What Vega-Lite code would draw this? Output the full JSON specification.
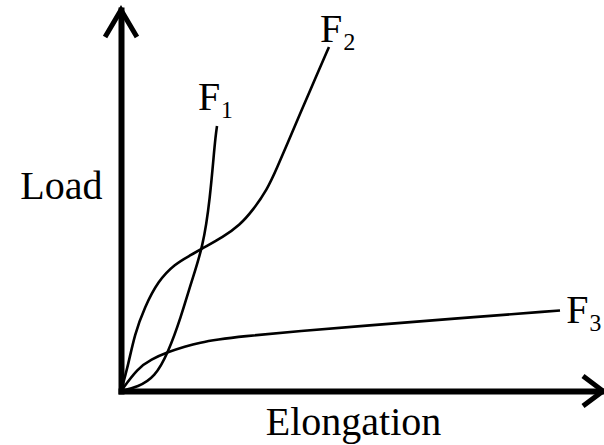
{
  "$schema": "https://vega.github.io/schema/vega-lite/v6.json",
  "width": 482,
  "height": 381,
  "autosize": {"type": "none"},
  "padding": {"left": 121, "top": 10, "right": 1, "bottom": 54},
  "background": "white",
  "config": {
    "view": {"stroke": null},
    "font": "Liberation Serif",
    "axis": {
      "domain": true,
      "domainColor": "black",
      "domainWidth": 6,
      "domainCap": "square",
      "ticks": false,
      "labels": false,
      "grid": false,
      "titleFont": "Liberation Serif",
      "titleFontSize": 40,
      "titleFontWeight": "normal",
      "titleColor": "black"
    }
  },
  "datasets": {
    "curves": [
      {"series": "F1", "elongation": 0, "load": 0},
      {"series": "F1", "elongation": 3.53, "load": 1.05},
      {"series": "F1", "elongation": 7.05, "load": 3.67},
      {"series": "F1", "elongation": 9.75, "load": 9.97},
      {"series": "F1", "elongation": 12.45, "load": 19.42},
      {"series": "F1", "elongation": 14.52, "load": 28.35},
      {"series": "F1", "elongation": 17.01, "load": 37.8},
      {"series": "F1", "elongation": 18.46, "load": 50.13},
      {"series": "F1", "elongation": 19.5, "load": 65.88},
      {"series": "F1", "elongation": 19.92, "load": 69.55},
      {"series": "F2", "elongation": 0, "load": 0},
      {"series": "F2", "elongation": 1.45, "load": 6.56},
      {"series": "F2", "elongation": 2.84, "load": 14.96},
      {"series": "F2", "elongation": 4.92, "load": 22.05},
      {"series": "F2", "elongation": 7.68, "load": 28.87},
      {"series": "F2", "elongation": 11.14, "load": 33.33},
      {"series": "F2", "elongation": 14.32, "load": 35.56},
      {"series": "F2", "elongation": 17.01, "load": 37.53},
      {"series": "F2", "elongation": 21.16, "load": 40.42},
      {"series": "F2", "elongation": 24.69, "load": 43.57},
      {"series": "F2", "elongation": 27.39, "load": 47.51},
      {"series": "F2", "elongation": 30.29, "load": 52.76},
      {"series": "F2", "elongation": 32.37, "load": 58.53},
      {"series": "F2", "elongation": 34.65, "load": 65.35},
      {"series": "F2", "elongation": 37.14, "load": 72.7},
      {"series": "F2", "elongation": 40.25, "load": 81.89},
      {"series": "F2", "elongation": 43.15, "load": 90.29},
      {"series": "F3", "elongation": 0, "load": 0},
      {"series": "F3", "elongation": 3.53, "load": 6.04},
      {"series": "F3", "elongation": 6.22, "load": 8.27},
      {"series": "F3", "elongation": 9.75, "load": 10.24},
      {"series": "F3", "elongation": 13.28, "load": 11.68},
      {"series": "F3", "elongation": 16.39, "load": 12.73},
      {"series": "F3", "elongation": 20.12, "load": 13.52},
      {"series": "F3", "elongation": 24.69, "load": 14.3},
      {"series": "F3", "elongation": 37.14, "load": 15.75},
      {"series": "F3", "elongation": 51.04, "load": 17.19},
      {"series": "F3", "elongation": 68.26, "load": 18.9},
      {"series": "F3", "elongation": 91.08, "load": 21.13}
    ],
    "labels": [
      {"label": "F₁", "elongation": 16.0, "load": 73.8},
      {"label": "F₂", "elongation": 41.3, "load": 91.6},
      {"label": "F₃", "elongation": 92.4, "load": 17.8}
    ]
  },
  "encoding": {
    "x": {
      "type": "quantitative",
      "scale": {"domain": [0, 100], "nice": false, "zero": true},
      "axis": {
        "title": "Elongation",
        "titleX": 232,
        "titleY": 43,
        "titleAlign": "center",
        "titleBaseline": "alphabetic"
      }
    },
    "y": {
      "type": "quantitative",
      "scale": {"domain": [0, 100], "nice": false, "zero": true},
      "axis": {
        "title": "Load",
        "titleAngle": 0,
        "titleX": -19,
        "titleY": 188,
        "titleAlign": "right",
        "titleBaseline": "alphabetic"
      }
    }
  },
  "layer": [
    {
      "data": {"name": "curves"},
      "mark": {"type": "line", "color": "black", "strokeWidth": 2.6, "interpolate": "basis"},
      "encoding": {
        "x": {"field": "elongation", "type": "quantitative"},
        "y": {"field": "load", "type": "quantitative"},
        "detail": {"field": "series"}
      }
    },
    {
      "data": {"name": "labels"},
      "mark": {"type": "text", "align": "left", "baseline": "alphabetic", "fontSize": 40, "font": "Liberation Serif", "color": "black"},
      "encoding": {
        "x": {"field": "elongation", "type": "quantitative"},
        "y": {"field": "load", "type": "quantitative"},
        "text": {"field": "label"}
      }
    },
    {
      "data": {"values": [{}]},
      "mark": {"type": "point", "shape": "M-0.59,1L0,0L0.59,1", "size": 2916, "filled": false, "stroke": "black", "strokeWidth": 5, "strokeJoin": "miter", "opacity": 1},
      "encoding": {
        "x": {"datum": 0, "type": "quantitative"},
        "y": {"datum": 100, "type": "quantitative"}
      }
    },
    {
      "data": {"values": [{}]},
      "mark": {"type": "point", "shape": "M-1,-0.75L0,0L-1,0.75", "size": 1600, "filled": false, "stroke": "black", "strokeWidth": 5, "strokeJoin": "miter", "opacity": 1},
      "encoding": {
        "x": {"datum": 100, "type": "quantitative"},
        "y": {"datum": 0, "type": "quantitative"}
      }
    }
  ]
}
